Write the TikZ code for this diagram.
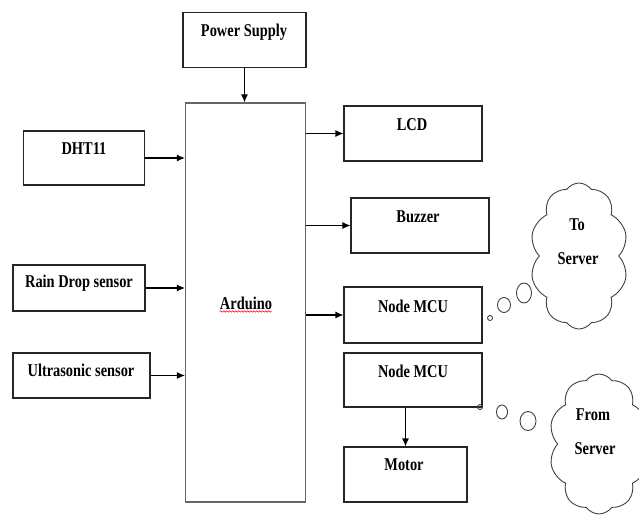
\documentclass[tikz,border=0pt]{standalone}
\usepackage{fontspec}
\setmainfont{Liberation Serif}[FakeStretch=0.8]
\usetikzlibrary{arrows.meta,shapes.symbols,decorations.pathmorphing}
\begin{document}
\begin{tikzpicture}[x=1pt,y=-1pt,
  box/.style={draw=black!85,line width=1.1pt,rectangle,inner sep=0pt},
  lbl/.style={font=\fontsize{18}{20}\selectfont\bfseries,inner sep=0pt},
  arr/.style={draw=black,line width=1.1pt,-{Latex[length=8pt,width=7pt]}},
  bub/.style={draw=black!75,line width=0.9pt},
  cloudy/.style={cloud,draw=black!75,line width=0.9pt,cloud puffs=10,cloud puff arc=110,aspect=0.6,inner sep=0pt}]
\useasboundingbox (0,0) rectangle (639,517);
% boxes
\node[box,minimum width=123pt,minimum height=55pt] (ps) at (244.5,40) {};
\node[box,draw=black!60,minimum width=120pt,minimum height=399pt] (ard) at (245.5,302.5) {};
\node[box,minimum width=121pt,minimum height=54pt] (dht) at (84,158) {};
\node[box,minimum width=132pt,minimum height=46pt] (rain) at (79,288) {};
\node[box,minimum width=137pt,minimum height=45pt] (ultra) at (81.5,375.5) {};
\node[box,minimum width=138pt,minimum height=55pt] (lcd) at (413,133.5) {};
\node[box,minimum width=138pt,minimum height=55pt] (buz) at (420,225.5) {};
\node[box,minimum width=138pt,minimum height=56pt] (mcua) at (413,315) {};
\node[box,minimum width=138pt,minimum height=54pt] (mcub) at (413,380) {};
\node[box,minimum width=123pt,minimum height=55pt] (mot) at (405.5,474.5) {};
% labels
\node[lbl] (tps) at (244,32) {Power Supply};
\node[lbl] (tard) at (246,303) {Arduino};
\node[lbl] (tdht) at (84,149) {DHT11};
\node[lbl] (train) at (79,283) {Rain Drop sensor};
\node[lbl] (tultra) at (81,370) {Ultrasonic sensor};
\node[lbl] (tlcd) at (412,125) {LCD};
\node[lbl] (tbuz) at (418,217) {Buzzer};
\node[lbl] (tmcua) at (413,306) {Node MCU};
\node[lbl] (tmcub) at (413,371) {Node MCU};
\node[lbl] (tmot) at (404,465) {Motor};
\draw[red,line width=0.5pt,decorate,decoration={snake,amplitude=0.8pt,segment length=3pt}]
  (tard.south west) ++(0,2) coordinate (sqa) -- (tard.south east |- sqa) coordinate (sqb);
% connectors
\draw[arr] (ps.south) -- (ps.south |- ard.north);
\draw[arr] (dht.east) -- (dht.east -| ard.west);
\draw[arr] (rain.east) -- (rain.east -| ard.west);
\draw[arr] (ultra.east) -- (ultra.east -| ard.west);
\draw[arr] (ard.east |- lcd.west) -- (lcd.west);
\draw[arr] (ard.east |- buz.west) -- (buz.west);
\draw[arr] (ard.east |- mcua.west) -- (mcua.west);
\draw[arr] (mcub.south -| mot.north) -- (mot.north);
% clouds
\node[cloudy,minimum width=98pt,minimum height=146pt] (c1) at (579,256) {};
\node[lbl] (tc1a) at (577,225) {To};
\node[lbl] (tc1b) at (578,259) {Server};
\node[cloudy,minimum width=100pt,minimum height=140pt] (c2) at (599,444) {};
\node[lbl] (tc2a) at (593,415) {From};
\node[lbl] (tc2b) at (595,449) {Server};
% thought bubbles
\draw[bub] (490,318) circle[radius=2.5];
\draw[bub] (504,305) ellipse[x radius=6.5,y radius=7.5];
\draw[bub] (524,293) ellipse[x radius=7.5,y radius=10];
\draw[bub] (480,407) circle[radius=2.5];
\draw[bub] (502,412) ellipse[x radius=5.5,y radius=7];
\draw[bub] (528,421) ellipse[x radius=8,y radius=9.5];
\end{tikzpicture}
\end{document}
